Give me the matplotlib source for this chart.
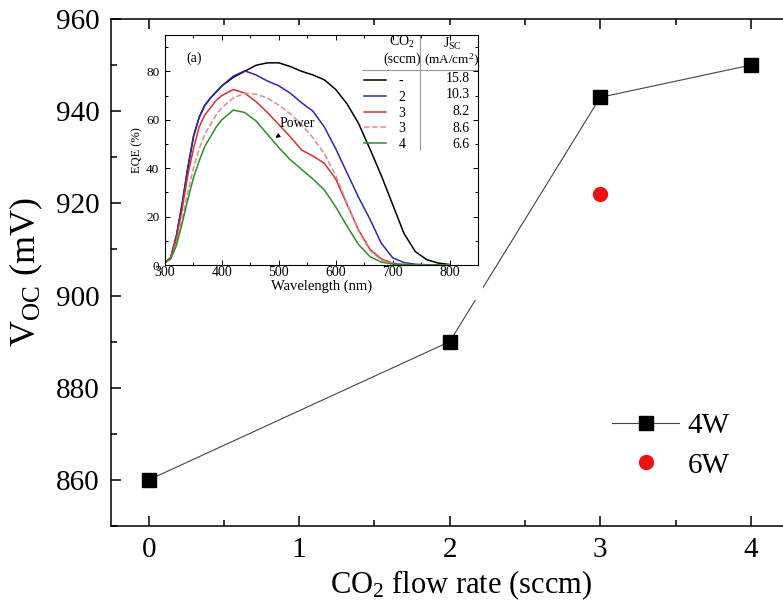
import matplotlib.pyplot as plt
from matplotlib.patches import Rectangle
from matplotlib.ticker import MultipleLocator

plt.rcParams['font.family'] = ['Liberation Serif', 'DejaVu Serif']
plt.rcParams['mathtext.fontset'] = 'custom'
plt.rcParams['mathtext.rm'] = 'Liberation Serif'
plt.rcParams['mathtext.it'] = 'Liberation Serif:italic'

# -------------------------------
# Data
# -------------------------------
# Voc vs CO2 flow rate
co2_4w = [0, 2, 3, 4]
voc_4w = [860, 890, 943, 950]
co2_6w = [3]
voc_6w = [922]

# EQE inset
wavelength = [300, 310, 320, 330, 340, 350, 360, 370, 380, 390, 400,
              420, 440, 460, 480, 500, 520, 540, 560, 580, 600,
              620, 640, 660, 680, 700, 720, 740, 760, 780, 800]
eqe_ref = [1, 3, 12, 25, 40, 53, 61, 66, 69, 71.5, 74,
           77.5, 80, 82.5, 83.5, 83.5, 82, 80, 78.5, 76.5, 72.5,
           66.5, 58.5, 48, 37, 25, 13, 5.5, 2.2, 0.8, 0.2]
eqe_2 = [1, 3, 12, 25, 40, 53, 61, 66, 69, 71.5, 74,
         78, 80.2, 78.5, 76, 74, 71, 67, 63.5, 57, 48,
         38, 28, 19, 9, 3, 1, 0.3, 0.1, 0, 0]
eqe_3 = [1, 3, 11, 23, 37, 48, 57, 62, 65, 68, 70,
         72.5, 71, 67.5, 63, 58, 53, 47.5, 45, 42, 35.5,
         25, 14.5, 6.5, 2.5, 0.8, 0.2, 0.1, 0, 0, 0]
eqe_3_6w = [1, 2.5, 9, 19, 30, 40, 48, 54, 58, 62, 65,
            69, 71, 70.5, 69, 66, 62.5, 58, 52.5, 46, 37,
            25.5, 14, 6, 2, 0.7, 0.2, 0.1, 0, 0, 0]
eqe_4 = [1, 2.5, 8, 17, 27, 36, 43, 49, 53, 57, 60,
         64, 63, 59.5, 54, 48.5, 43.5, 39.5, 35.5, 31, 24,
         16, 8.5, 3.5, 1.2, 0.4, 0.1, 0, 0, 0, 0]
eqe_series = [eqe_ref, eqe_2, eqe_3, eqe_3_6w, eqe_4]
co2_labels = ['-', '2', '3', '3', '4']
jsc_labels = ['15.8', '10.3', '8.2', '8.6', '6.6']
colors = ['black', '#2b2ba8', '#cc3333', '#d98c8c', '#2e8b2e']
styles = ['-', '-', '-', '--', '-']

# -------------------------------
# Main plot
# -------------------------------
fig = plt.figure(figsize=(7.83, 6.06), dpi=100)
# right spine lies beyond the cropped picture
ax = fig.add_axes([111/783, 1 - 526/606, 700/783, 507/606])

ax.plot(co2_4w, voc_4w, color='#444444', lw=0.8, marker='s', ms=10.5,
        mfc='black', mec='black', label='4W')
ax.plot(co2_6w, voc_6w, ls='none', marker='o', ms=10, color='#ee1111', label='6W')

ax.set_xlim(-0.25, 4.4)
ax.set_ylim(850, 960)
ax.set_xticks([0, 1, 2, 3, 4])
ax.set_yticks([860, 880, 900, 920, 940, 960])
ax.xaxis.set_minor_locator(MultipleLocator(0.5))
ax.yaxis.set_minor_locator(MultipleLocator(10))
ax.tick_params(which='both', direction='in', top=True, right=True, width=1.1)
ax.tick_params(which='major', length=7, labelsize=21, pad=8)
ax.tick_params(which='minor', length=4)
for sp in ax.spines.values():
    sp.set_linewidth(1.1)

ax.set_xlabel('CO$_2$ flow rate (sccm)', fontsize=22, labelpad=4)
ax.set_ylabel('V$_{\\mathrm{OC}}$ (mV)', fontsize=26, labelpad=8)

ax.legend(loc='upper left', bbox_to_anchor=(612/783, 0.319), bbox_transform=fig.transFigure,
          frameon=False, fontsize=21, handlelength=2.3, handletextpad=0.3,
          borderpad=0, borderaxespad=0, labelspacing=0.45)

# white backing of the pasted inset
fig.patches.append(Rectangle((150/783, 1 - 300/606), 333/783, 275/606,
                             transform=fig.transFigure, facecolor='white',
                             edgecolor='none', zorder=1))

# -------------------------------
# Inset EQE
# -------------------------------
ins = fig.add_axes([165/783, 1 - 265/606, 313/783, 230/606], zorder=2)
for y, c, s in zip(eqe_series, colors, styles):
    ins.plot(wavelength, y, color=c, ls=s, lw=1.1)

ins.set_xlim(300, 850)
ins.set_ylim(0, 95)
ins.set_xticks([300, 400, 500, 600, 700, 800])
ins.set_yticks([0, 20, 40, 60, 80])
ins.xaxis.set_minor_locator(MultipleLocator(50))
ins.yaxis.set_minor_locator(MultipleLocator(10))
ins.tick_params(which='both', direction='in', top=True, right=True, width=0.7)
ins.tick_params(which='major', length=3.5)
ins.tick_params(axis='x', pad=1, labelsize=10)
ins.tick_params(axis='y', pad=4, labelsize=9.5)
ins.tick_params(which='minor', length=2)
for sp in ins.spines.values():
    sp.set_linewidth(0.8)
ins.set_xlabel('Wavelength (nm)', fontsize=10.5, labelpad=0)
ins.set_ylabel('EQE (%)', fontsize=9, labelpad=2)
ins.text(0.067, 0.9, '(a)', transform=ins.transAxes, fontsize=10, va='center')

ins.annotate('Power', xy=(494, 52.5), xytext=(532, 58.6), fontsize=10,
             ha='center', va='center',
             arrowprops=dict(arrowstyle='-|>', lw=0.8, color='black',
                             mutation_scale=6, shrinkA=4, shrinkB=0))

# legend table
ins.legend(co2_labels, loc='upper left', bbox_to_anchor=(0.635, 0.826),
           frameon=False, fontsize=10, handlelength=1.6, handletextpad=0.9,
           borderpad=0, borderaxespad=0, labelspacing=0.2)
for i, j in enumerate(jsc_labels):
    ins.text(0.974, 0.813 - i * 0.0725, j, transform=ins.transAxes,
             fontsize=10, ha='right', va='center')
ins.text(0.757, 0.968, 'CO$_2$', transform=ins.transAxes, fontsize=10, ha='center', va='center')
ins.text(0.757, 0.895, '(sccm)', transform=ins.transAxes, fontsize=10, ha='center', va='center')
ins.text(0.917, 0.962, 'J$_{\\mathrm{SC}}$', transform=ins.transAxes, fontsize=10, ha='center', va='center')
ins.text(0.917, 0.89, '(mA/cm$^2$)', transform=ins.transAxes, fontsize=9.5, ha='center', va='center')
ins.plot([0.629, 1.0], [0.848, 0.848], transform=ins.transAxes, color='#999999', lw=0.8)
ins.plot([0.815, 0.815], [0.5, 1.0], transform=ins.transAxes, color='#999999', lw=0.8)

fig.savefig('out.png', dpi=100)
